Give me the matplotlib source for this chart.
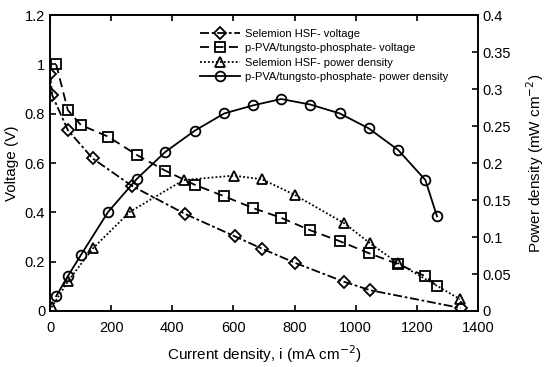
import matplotlib
matplotlib.use("Agg")
import matplotlib.pyplot as plt

plt.rcParams['font.family'] = ['Liberation Sans', 'DejaVu Sans']

# Selemion HSF
sel_i_v = [0, 7, 58, 139, 267, 441, 604, 693, 802, 963, 1048, 1344]
sel_v = [0.96, 0.875, 0.734, 0.619, 0.508, 0.394, 0.303, 0.253, 0.195, 0.118, 0.084, 0.012]
sel_i_p = [5, 60, 141, 261, 437, 601, 694, 800, 963, 1047, 1137, 1341]
sel_p = [0.005, 0.041, 0.085, 0.134, 0.177, 0.183, 0.178, 0.157, 0.1185, 0.0915, 0.065, 0.016]

# p-PVA/tungsto-phosphate
pva_i = [20, 58, 101, 190, 285, 377, 473, 570, 665, 756, 852, 948, 1042, 1139, 1228, 1266]
pva_v = [1.0, 0.815, 0.754, 0.707, 0.632, 0.569, 0.512, 0.465, 0.417, 0.378, 0.327, 0.283, 0.235, 0.19, 0.141, 0.100]
pva_p = [0.02, 0.047, 0.0757, 0.134, 0.179, 0.215, 0.2436, 0.267, 0.278, 0.2865, 0.279, 0.267, 0.247, 0.2176, 0.177, 0.128]

fig = plt.figure(figsize=(5.5, 3.67), dpi=100)
ax = fig.add_axes([0.091, 0.1526, 0.778, 0.8064])
ax2 = ax.twinx()

mk = dict(markerfacecolor='none', markeredgecolor='black', markeredgewidth=1.3, color='black', linewidth=1.3)
l1, = ax.plot(sel_i_v, sel_v, linestyle=(0, (5, 1.5, 1.5, 1.5)), marker='D', markersize=6, **mk)
l2, = ax.plot(pva_i, pva_v, linestyle=(0, (5, 3)), marker='s', markersize=6.5, **mk)
l3, = ax2.plot(sel_i_p, sel_p, linestyle=(0, (1, 1.2)), marker='^', markersize=7, **mk)
l4, = ax2.plot(pva_i, pva_p, linestyle='-', marker='o', markersize=7, **mk)

ax.set_xlim(0, 1400)
ax.set_ylim(0, 1.2)
ax2.set_ylim(0, 0.4)
ax.set_xticks([0, 200, 400, 600, 800, 1000, 1200, 1400])
ax.set_yticks([0, 0.2, 0.4, 0.6, 0.8, 1.0, 1.2])
ax.set_yticklabels(['0', '0.2', '0.4', '0.6', '0.8', '1', '1.2'])
ax2.set_yticks([0, 0.05, 0.1, 0.15, 0.2, 0.25, 0.3, 0.35, 0.4])
ax2.set_yticklabels(['0', '0.05', '0.1', '0.15', '0.2', '0.25', '0.3', '0.35', '0.4'])

ax.tick_params(axis='x', direction='in', top=True, labelsize=10.5, length=4, width=1.2, pad=7.5)
ax.tick_params(axis='y', direction='in', labelsize=10.5, length=4, width=1.2)
ax2.tick_params(axis='y', direction='in', labelsize=10.5, length=4, width=1.2)
for a in (ax, ax2):
    for s in a.spines.values():
        s.set_linewidth(1.2)

ax.set_xlabel('Current density, i (mA cm$^{-2}$)', fontsize=11, labelpad=6)
ax.set_ylabel('Voltage (V)', fontsize=11, labelpad=4)
ax2.set_ylabel('Power density (mW cm$^{-2}$)', fontsize=11, labelpad=9)

leg = ax.legend([l1, l2, l3, l4],
                ['Selemion HSF- voltage', 'p-PVA/tungsto-phosphate- voltage',
                 'Selemion HSF- power density', 'p-PVA/tungsto-phosphate- power density'],
                loc='upper left', bbox_to_anchor=(0.335, 0.975), frameon=False,
                fontsize=8, handlelength=3.6, handletextpad=0.4, labelspacing=0.38,
                borderaxespad=0.2)

fig.savefig('out.png', dpi=100)
